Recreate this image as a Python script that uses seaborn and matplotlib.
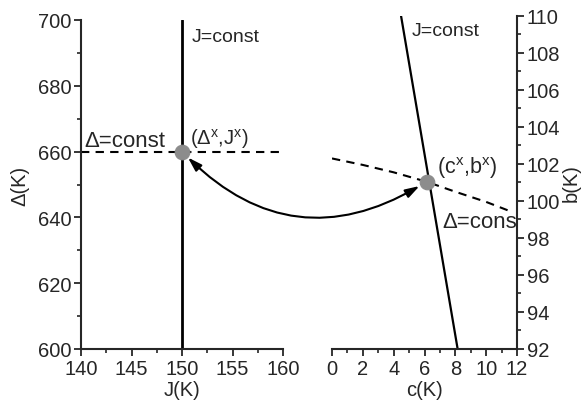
import matplotlib
matplotlib.use("Agg")
import matplotlib.pyplot as plt
import seaborn as sns
from matplotlib.patches import ConnectionPatch
from matplotlib.ticker import MultipleLocator

# ---- data ----
# left panel (J, Delta)
j_const_J = [150, 150]
j_const_D = [600, 700]
d_const_J = [140, 160]
d_const_D = [660, 660]
point_J = [150]
point_D = [660]

# right panel (c, b)
j_const_c = [4.48, 8.15]
j_const_b = [110, 92]
d_const_c = [0, 2, 4, 6.14, 8, 10, 11.7]
d_const_b = [102.3, 101.95, 101.55, 101.04, 100.5, 99.95, 99.4]
point_c = [6.14]
point_b = [101.04]

left_xticks = [140, 145, 150, 155, 160]
left_yticks = [600, 620, 640, 660, 680, 700]
right_xticks = [0, 2, 4, 6, 8, 10, 12]
right_yticks = [92, 94, 96, 98, 100, 102, 104, 106, 108, 110]

sns.set_style("ticks")
plt.rcParams['font.family'] = ['Liberation Sans', 'DejaVu Sans']
plt.rcParams['mathtext.fontset'] = 'custom'
plt.rcParams['mathtext.rm'] = 'Liberation Sans'

FS = 14.5
fig = plt.figure(figsize=(5.86, 4.02), dpi=100)
ax1 = fig.add_axes([81/586, 1-350/402, 202/586, 329/402])
ax2 = fig.add_axes([332/586, 1-350/402, 185/586, 333/402])

grey = "#8c8c8c"

# left panel
sns.lineplot(x=j_const_J, y=j_const_D, ax=ax1, color="black", lw=2, estimator=None, sort=False)
sns.lineplot(x=d_const_J, y=d_const_D, ax=ax1, color="black", lw=1.5, estimator=None, sort=False,
             linestyle=(0, (4, 3)))
sns.scatterplot(x=point_J, y=point_D, ax=ax1, color=grey, s=110, edgecolor=grey, zorder=5, clip_on=False)

ax1.set_xlim(140, 160)
ax1.set_ylim(600, 700)
ax1.set_xticks(left_xticks)
ax1.set_yticks(left_yticks)
ax1.xaxis.set_minor_locator(MultipleLocator(2.5))
ax1.yaxis.set_minor_locator(MultipleLocator(10))
ax1.set_xlabel("J(K)", fontsize=FS, labelpad=2)
ax1.set_ylabel("Δ(K)", fontsize=FS, labelpad=6)
for s in ["top", "right"]:
    ax1.spines[s].set_visible(False)

ax1.text(151.0, 695, "J=const", fontsize=14, ha="left", va="center")
ax1.text(140.3, 663.3, "Δ=const", fontsize=16, ha="left", va="center")
ax1.text(150.8, 664.0, r"(Δ$^\mathregular{x}$,J$^\mathregular{x}$)", fontsize=14.5, ha="left", va="center")

# right panel
sns.lineplot(x=j_const_c, y=j_const_b, ax=ax2, color="black", lw=1.6, estimator=None, sort=False)
sns.lineplot(x=d_const_c, y=d_const_b, ax=ax2, color="black", lw=1.5, estimator=None, sort=False,
             linestyle=(0, (4, 3)))
sns.scatterplot(x=point_c, y=point_b, ax=ax2, color=grey, s=110, edgecolor=grey, zorder=5)

ax2.set_xlim(0, 12)
ax2.set_ylim(92, 110)
ax2.set_xticks(right_xticks)
ax2.set_yticks(right_yticks)
ax2.xaxis.set_minor_locator(MultipleLocator(1))
ax2.yaxis.set_minor_locator(MultipleLocator(1))
ax2.yaxis.tick_right()
ax2.yaxis.set_label_position("right")
ax2.set_xlabel("c(K)", fontsize=FS, labelpad=2)
ax2.set_ylabel("b(K)", fontsize=FS, labelpad=1)
for s in ["top", "left"]:
    ax2.spines[s].set_visible(False)

ax2.text(5.19, 109.2, "J=const", fontsize=14, ha="left", va="center")
ax2.text(6.81, 101.85, r"(c$^\mathregular{x}$,b$^\mathregular{x}$)", fontsize=15.5, ha="left", va="center")
t = ax2.text(7.14, 98.87, "Δ=const", fontsize=16, ha="left", va="center")
t.set_clip_on(True)
t.set_clip_box(ax2.bbox)

for ax in (ax1, ax2):
    for s in ax.spines.values():
        s.set_linewidth(1.5)
    ax.tick_params(which="major", direction="out", length=5, width=1.3, labelsize=FS, pad=2)
    ax.tick_params(which="minor", direction="out", length=3, width=1.2)
    ax.patch.set_alpha(0)

# curved double arrow between the two points
con = ConnectionPatch(xyA=(point_J[0], point_D[0]), coordsA=ax1.transData,
                      xyB=(point_c[0], point_b[0]), coordsB=ax2.transData,
                      arrowstyle="<|-|>,head_length=0.7,head_width=0.22",
                      connectionstyle="arc3,rad=0.4", color="black", lw=1.5,
                      shrinkA=6, shrinkB=6, mutation_scale=12, zorder=4)
fig.add_artist(con)

fig.savefig("out.png", dpi=100, facecolor="white")
